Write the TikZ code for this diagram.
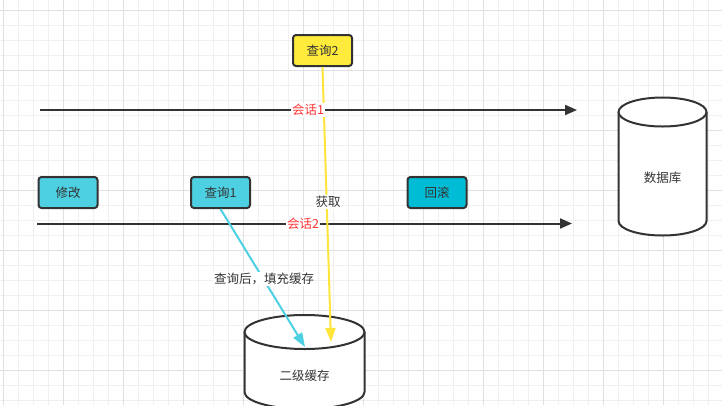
\documentclass[tikz,border=0pt]{standalone}
\usepackage{fontspec}
\setmainfont{Noto Sans CJK SC}
\usetikzlibrary{arrows.meta}
\definecolor{gridminor}{HTML}{F0F0F0}
\definecolor{gridmajor}{HTML}{E0E0E0}
\definecolor{qyellow}{HTML}{FFEB3B}
\definecolor{qcyan}{HTML}{4DD0E1}
\definecolor{qteal}{HTML}{00BCD4}
\definecolor{edge}{HTML}{333333}
\definecolor{lblred}{HTML}{FF3333}
\definecolor{yline}{HTML}{FFE53B}
\definecolor{cline}{HTML}{4DD0E1}
\tikzset{
  box/.style={draw=edge, line width=2pt, rounded corners=3pt, minimum width=59pt, minimum height=31pt, inner sep=0pt, font=\fontsize{12.5}{14}\selectfont, text=edge},
  txt/.style={font=\fontsize{12.5}{14}\selectfont, text=edge, inner sep=1pt},
  sess/.style={draw=edge, line width=2pt, -{Triangle[length=12pt,width=10pt]}},
  redlbl/.style={font=\fontsize{12.5}{14}\selectfont, text=lblred, fill=white, inner sep=1pt},
  cyl/.style={draw=edge, line width=2pt, fill=white},
}
\begin{document}
\begin{tikzpicture}[x=1pt,y=-1pt]
\useasboundingbox (0,0) rectangle (722,405);
\fill[white] (0,0) rectangle (722,405);
% grid
\foreach \i in {0,...,48} {\draw[gridminor, line width=0.8pt] ({3+15*\i},0) -- ({3+15*\i},405);}
\foreach \j in {0,...,26} {\draw[gridminor, line width=0.8pt] (0,{10+15*\j}) -- (722,{10+15*\j});}
\foreach \i in {0,...,12} {\draw[gridmajor, line width=0.8pt] ({3+60*\i},0) -- ({3+60*\i},405);}
\foreach \j in {0,...,6} {\draw[gridmajor, line width=0.8pt] (0,{10+60*\j}) -- (722,{10+60*\j});}

% session lines
\coordinate (s1a) at (40,110);
\coordinate (s1b) at (577,110);
\coordinate (s2a) at (37,223.5);
\coordinate (s2b) at (572,223.5);
\draw[sess] (s1a) -- (s1b);
\draw[sess] (s2a) -- (s2b);

% boxes
\node[box, fill=qyellow] (q2) at (322.5,50.5) {查询2};
\node[box, fill=qcyan] (mod) at (68,192.5) {修改};
\node[box, fill=qcyan] (q1) at (220.5,192.5) {查询1};
\node[box, fill=qteal] (rb) at (437,192.5) {回滚};

% L2 cache cylinder
\draw[cyl] (244.5,332) -- (244.5,392) arc[start angle=180, end angle=0, x radius=60, y radius=17] -- (364.5,332);
\draw[cyl] (304.5,332) ellipse[x radius=60, y radius=17];
\node[txt] (l2) at (304.5,376) {二级缓存};
\coordinate (l2top) at (304.5,332);

% database cylinder
\draw[cyl] (618.5,112) -- (618.5,221) arc[start angle=180, end angle=0, x radius=44, y radius=14.5] -- (706.5,112);
\draw[cyl] (662.5,112) ellipse[x radius=44, y radius=14.5];
\node[txt] (db) at (662.5,178) {数据库};

% connectors
\coordinate (yend) at (331,342);
\coordinate (cend) at (305,347);
\draw[yline, line width=2pt, -{Triangle[length=14pt,width=10pt]}] (q2.south) -- (yend);
\draw[cline, line width=2pt, -{Triangle[length=14pt,width=10pt]}] (q1.south) -- (cend);

% labels
\node[redlbl] (l1) at (308,110) {会话1};
\node[redlbl] (l2s) at (303,224) {会话2};
\node[txt, fill=white] (get) at (328,202) {获取};
\node[txt, fill=white] (fill) at (264,279) {查询后，填充缓存};
\end{tikzpicture}
\end{document}
